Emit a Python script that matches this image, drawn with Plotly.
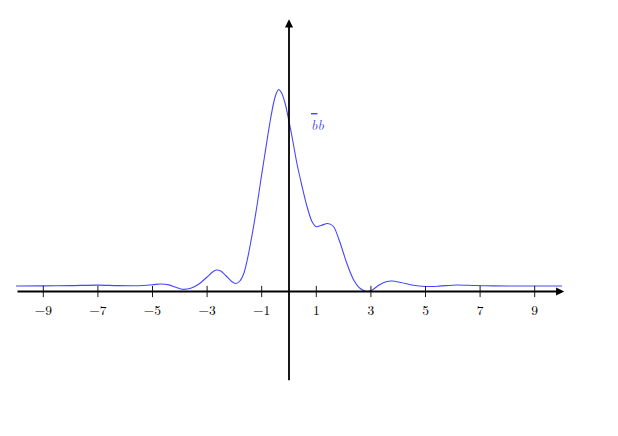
import plotly.graph_objects as go

# curve samples (t, value); value in axis units (read in px above the axis, 27.3 px per unit)
t_vals = [-10, -9, -8, -7, -6.3, -5.6, -5.0, -4.7, -4.4, -4.15, -3.92, -3.6, -3.3, -3.0, -2.8, -2.66,
          -2.5, -2.3, -2.1, -1.95, -1.8, -1.65, -1.53, -1.41, -1.28, -1.16, -1.04, -0.92, -0.8,
          -0.68, -0.56, -0.46, -0.38, -0.28, -0.14, 0.0, 0.11, 0.29, 0.48, 0.66, 0.84, 1.0, 1.2,
          1.42, 1.63, 1.88, 2.12, 2.37, 2.61, 2.85, 3.05, 3.3, 3.55, 3.77, 4.1, 4.5, 5.0, 5.5,
          6.15, 6.8, 7.5, 8.5, 10]
h_px = [5.5, 5.6, 5.9, 6.4, 5.9, 5.8, 6.8, 7.5, 6.6, 4.2, 2.2, 3.2, 7.5, 14.5, 19.5, 21.5,
        20.5, 15.5, 10.0, 8.0, 10.5, 18.5, 31.5, 48.0, 68.0, 88.0, 110.0, 131.0, 152.0,
        172.0, 189.0, 198.5, 202.0, 199.0, 188.0, 170.0, 155.0, 128.0, 105.0, 85.0, 70.0, 64.8, 66.3,
        68.0, 65.0, 48.0, 28.0, 11.5, 3.0, 0.0, 1.5, 6.5, 9.8, 10.5, 9.0, 6.5, 5.0, 5.4,
        6.5, 6.0, 5.6, 5.5, 5.5]
UNIT = 27.3
y_vals = [h / UNIT for h in h_px]

tick_vals = [-9, -7, -5, -3, -1, 1, 3, 5, 7, 9]
tick_text = ["\u22129", "\u22127", "\u22125", "\u22123", "\u22121", "1", "3", "5", "7", "9"]

curve_label = "<i><span style=\"text-decoration:overline\">b</span>b</i>"
axis_label = "<i>t</i>"

FONT = "Latin Modern Roman, Liberation Serif, DejaVu Serif, serif"
BLUE = "#4646ff"

fig = go.Figure()

fig.add_trace(go.Scatter(x=t_vals, y=y_vals, mode="lines",
                         line=dict(color=BLUE, width=1.1, shape="spline", smoothing=0.75),
                         hoverinfo="skip", showlegend=False))

# crossing ticks
fig.add_trace(go.Scatter(x=tick_vals, y=[0] * len(tick_vals), mode="markers",
                         marker=dict(symbol="line-ns", size=8,
                                     line=dict(color="black", width=0.9)),
                         hoverinfo="skip", showlegend=False))

# tick labels
fig.add_trace(go.Scatter(x=tick_vals, y=[-0.72] * len(tick_vals), mode="text",
                         text=tick_text, textfont=dict(family=FONT, size=13.5, color="black"),
                         hoverinfo="skip", showlegend=False))

annotations = [
    # x axis arrow
    dict(x=10.08, y=0, ax=-10, ay=0, xref="x", yref="y", axref="x", ayref="y",
         showarrow=True, arrowhead=2, arrowsize=0.9, arrowwidth=1.8, arrowcolor="black", text=""),
    # y axis arrow
    dict(x=0, y=9.97, ax=0, ay=-3.31, xref="x", yref="y", axref="x", ayref="y",
         showarrow=True, arrowhead=2, arrowsize=0.9, arrowwidth=1.8, arrowcolor="black", text=""),
    dict(x=10.34, y=-0.45, xref="x", yref="y", text=axis_label, showarrow=False,
         font=dict(family=FONT, size=14, color="black")),
    dict(x=1.04, y=6.15, xref="x", yref="y", text=curve_label, showarrow=False,
         font=dict(family=FONT, size=14, color=BLUE)),
]

fig.update_layout(
    width=610, height=428,
    margin=dict(l=8, r=56, t=2, b=36),
    paper_bgcolor="white", plot_bgcolor="white",
    xaxis=dict(range=[-10, 10], visible=False),
    yaxis=dict(range=[-(400 - 291.5) / UNIT, (291.5 - 10) / UNIT], visible=False),
    annotations=annotations,
)

fig.write_html("out.html")
